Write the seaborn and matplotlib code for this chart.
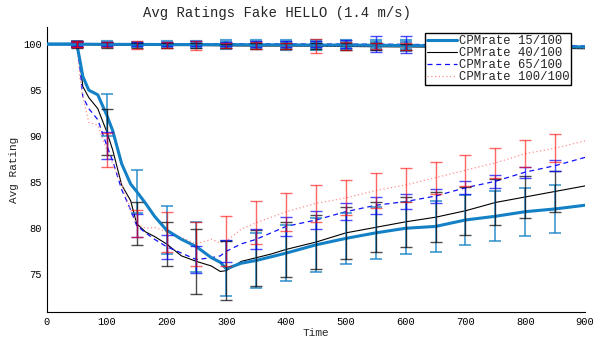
import matplotlib
matplotlib.use("Agg")
import matplotlib.pyplot as plt
import seaborn as sns
import numpy as np

# time grid of the dropping curves
time = [0, 50, 55, 60, 70, 85, 100, 110, 125, 140, 150, 165, 180, 200, 225,
        250, 275, 290, 300, 325, 350, 375, 400, 450, 500, 550, 600, 650, 700,
        750, 800, 850, 900]
drop_15 = [100, 100, 98.3, 96.5, 95.0, 94.5, 92.3, 90.6, 87.0, 84.8, 84.0, 82.7,
           81.3, 79.8, 78.8, 78.0, 76.8, 76.3, 75.6, 76.2, 76.5, 76.9, 77.3, 78.2,
           78.9, 79.5, 80.0, 80.2, 80.9, 81.3, 81.8, 82.1, 82.5]
drop_40 = [100, 100, 98.3, 95.4, 94.2, 93.0, 90.5, 88.5, 84.7, 83.0, 80.5, 79.6,
           79.1, 78.3, 77.0, 76.4, 75.9, 75.3, 75.4, 76.4, 76.8, 77.2, 77.7, 78.5,
           79.5, 80.1, 80.7, 81.2, 81.9, 82.8, 83.4, 84.0, 84.6]
drop_65 = [100, 100, 97.5, 94.3, 93.0, 91.8, 89.0, 87.3, 84.2, 82.0, 80.3, 79.5,
           78.8, 78.0, 77.3, 76.6, 76.8, 77.0, 77.5, 78.3, 78.8, 79.5, 80.2, 80.9,
           81.8, 82.5, 82.9, 83.5, 84.4, 85.1, 86.1, 86.8, 87.7]
drop_100 = [100, 100, 96.4, 94.3, 91.5, 91.2, 88.5, 87.0, 84.8, 82.0, 80.5, 80.0,
            80.1, 79.6, 79.0, 78.3, 78.8, 78.4, 78.6, 79.9, 80.6, 81.2, 81.8, 82.7,
            83.3, 84.1, 84.7, 85.5, 86.3, 87.1, 88.1, 88.7, 89.5]

# error bar half widths of the dropping curves at t = 50, 100, ..., 850
bar_time = list(range(50, 900, 50))
err_15 = [0.3, 2.3, 2.3, 2.6, 2.7, 3.0, 3.0, 3.0, 2.9, 2.8, 2.8, 2.8, 2.75, 2.7, 2.7, 2.6, 2.6]
err_40 = [0.3, 2.5, 2.3, 2.4, 3.5, 3.2, 3.05, 3.0, 2.9, 2.8, 2.7, 2.7, 2.7, 2.6, 2.5, 2.3, 2.2]
err_65 = [0.3, 1.5, 1.2, 1.3, 1.45, 1.2, 1.1, 1.0, 1.0, 0.9, 0.9, 0.8, 0.8, 0.7, 0.7, 0.6, 0.6]
err_100 = [0.3, 1.8, 1.5, 2.2, 2.4, 2.7, 2.35, 2.05, 2.0, 1.9, 1.9, 1.85, 1.75, 1.7, 1.6, 1.45, 1.55]

# flat curves near 100
flat_time = list(range(0, 950, 50))
flat_15 = [100, 100, 99.98, 99.97, 99.96, 99.95, 99.95, 99.93, 99.92, 99.9, 99.9,
           99.88, 99.85, 99.82, 99.8, 99.78, 99.75, 99.72, 99.7]
flat_40 = [100, 99.95, 99.9, 99.88, 99.85, 99.85, 99.82, 99.8, 99.8, 99.78, 99.75,
           99.72, 99.7, 99.68, 99.65, 99.62, 99.6, 99.55, 99.5]
flat_65 = [100.05, 100.05, 100.05, 100.05, 100.04, 100.04, 100.03, 100.03, 100.02,
           100.02, 100.0, 100.0, 99.98, 99.95, 99.95, 99.92, 99.9, 99.85, 99.8]
flat_100 = [100, 99.98, 99.95, 99.92, 99.9, 99.88, 99.85, 99.85, 99.82, 99.8, 99.8,
            99.78, 99.75, 99.72, 99.7, 99.68, 99.65, 99.62, 99.6]
ferr_15 = [0.15, 0.2, 0.2, 0.25, 0.3, 0.35, 0.4, 0.4, 0.45, 0.45, 0.45, 0.5, 0.5, 0.5, 0.55, 0.5, 0.5]
ferr_40 = [0.35, 0.3, 0.25, 0.3, 0.3, 0.25, 0.3, 0.3, 0.35, 0.4, 0.4, 0.35, 0.4, 0.4, 0.4, 0.4, 0.45]
ferr_65 = [0.2, 0.2, 0.2, 0.2, 0.25, 0.25, 0.3, 0.3, 0.35, 0.4, 0.9, 0.9, 0.4, 0.35, 0.4, 0.4, 0.4]
ferr_100 = [0.3, 0.3, 0.45, 0.3, 0.5, 0.3, 0.35, 0.3, 0.8, 0.4, 0.3, 0.4, 0.3, 0.35, 0.3, 0.4, 0.3]

labels = ["CPMrate 15/100", "CPMrate 40/100", "CPMrate 65/100", "CPMrate 100/100"]


def main():
    sns.set_style("white")
    plt.rcParams["font.family"] = ["Liberation Mono", "DejaVu Sans Mono"]

    fig = plt.figure(figsize=(5.94, 3.39), dpi=100)
    ax = fig.add_axes([0.079, 0.0796, 0.906, 0.8404])

    styles = [
        dict(color="#1480C6", lw=2.2, ls="-", ecolor="#1480C6", ealpha=0.75, elw=1.3),
        dict(color="black", lw=0.8, ls="-", ecolor="black", ealpha=0.7, elw=1.0),
        dict(color="#1010FF", lw=0.9, ls=(0, (4, 3)), ecolor="#0000FF", ealpha=0.7, elw=1.0),
        dict(color="#FF9090", lw=0.9, ls=(0, (1, 2)), ecolor="#FF0000", ealpha=0.6, elw=1.0),
    ]
    drops = [drop_15, drop_40, drop_65, drop_100]
    errs = [err_15, err_40, err_65, err_100]
    flats = [flat_15, flat_40, flat_65, flat_100]
    ferrs = [ferr_15, ferr_40, ferr_65, ferr_100]

    t = np.array(time)
    for i in range(4):
        st = styles[i]
        z = 3 if i == 0 else 2
        sns.lineplot(x=time, y=drops[i], color=st["color"], lw=st["lw"],
                     linestyle=st["ls"], label=labels[i], ax=ax, zorder=z)
        sns.lineplot(x=flat_time, y=flats[i], color=st["color"], lw=st["lw"],
                     linestyle=st["ls"], legend=False, ax=ax, zorder=z)

    for i in range(4):
        st = styles[i]
        d = np.array(drops[i])
        centers = [d[t == b][0] for b in bar_time]
        ax.errorbar(bar_time, centers, yerr=errs[i], fmt="none", ecolor=st["ecolor"],
                    alpha=st["ealpha"], elinewidth=st["elw"], capsize=4,
                    capthick=st["elw"], zorder=4)
        fw = 3.0 if i == 0 else 1.0
        ax.errorbar(bar_time, flats[i][1:-1], yerr=ferrs[i], fmt="none",
                    ecolor=st["ecolor"], alpha=st["ealpha"], elinewidth=fw,
                    capsize=4, capthick=fw, zorder=4)

    ax.set_xlim(0, 900)
    ax.set_ylim(70.9, 101.85)
    ax.set_xticks(range(0, 1000, 100))
    ax.set_yticks(range(75, 105, 5))
    ax.tick_params(direction="in", length=4, width=0.8, labelsize=7.5, colors="black")
    for side in ["top", "right"]:
        ax.spines[side].set_visible(False)
    for side in ["left", "bottom"]:
        ax.spines[side].set_color("black")
        ax.spines[side].set_linewidth(0.8)

    ax.set_title("Avg Ratings Fake HELLO (1.4 m/s)", fontsize=10, pad=7, x=0.4275)
    ax.set_xlabel("Time", fontsize=8, labelpad=1)
    ax.set_ylabel("Avg Rating", fontsize=8, labelpad=3)

    leg = ax.legend(loc="upper right", bbox_to_anchor=(0.974, 0.979), fontsize=8.8,
                    frameon=True, fancybox=False, handlelength=2.5, handletextpad=0.1,
                    borderpad=0.15, labelspacing=0.0, borderaxespad=0)
    leg.get_frame().set_edgecolor("black")
    leg.get_frame().set_linewidth(1.0)
    leg.get_frame().set_alpha(1)

    plt.savefig("out.png", dpi=100)


if __name__ == "__main__":
    main()
